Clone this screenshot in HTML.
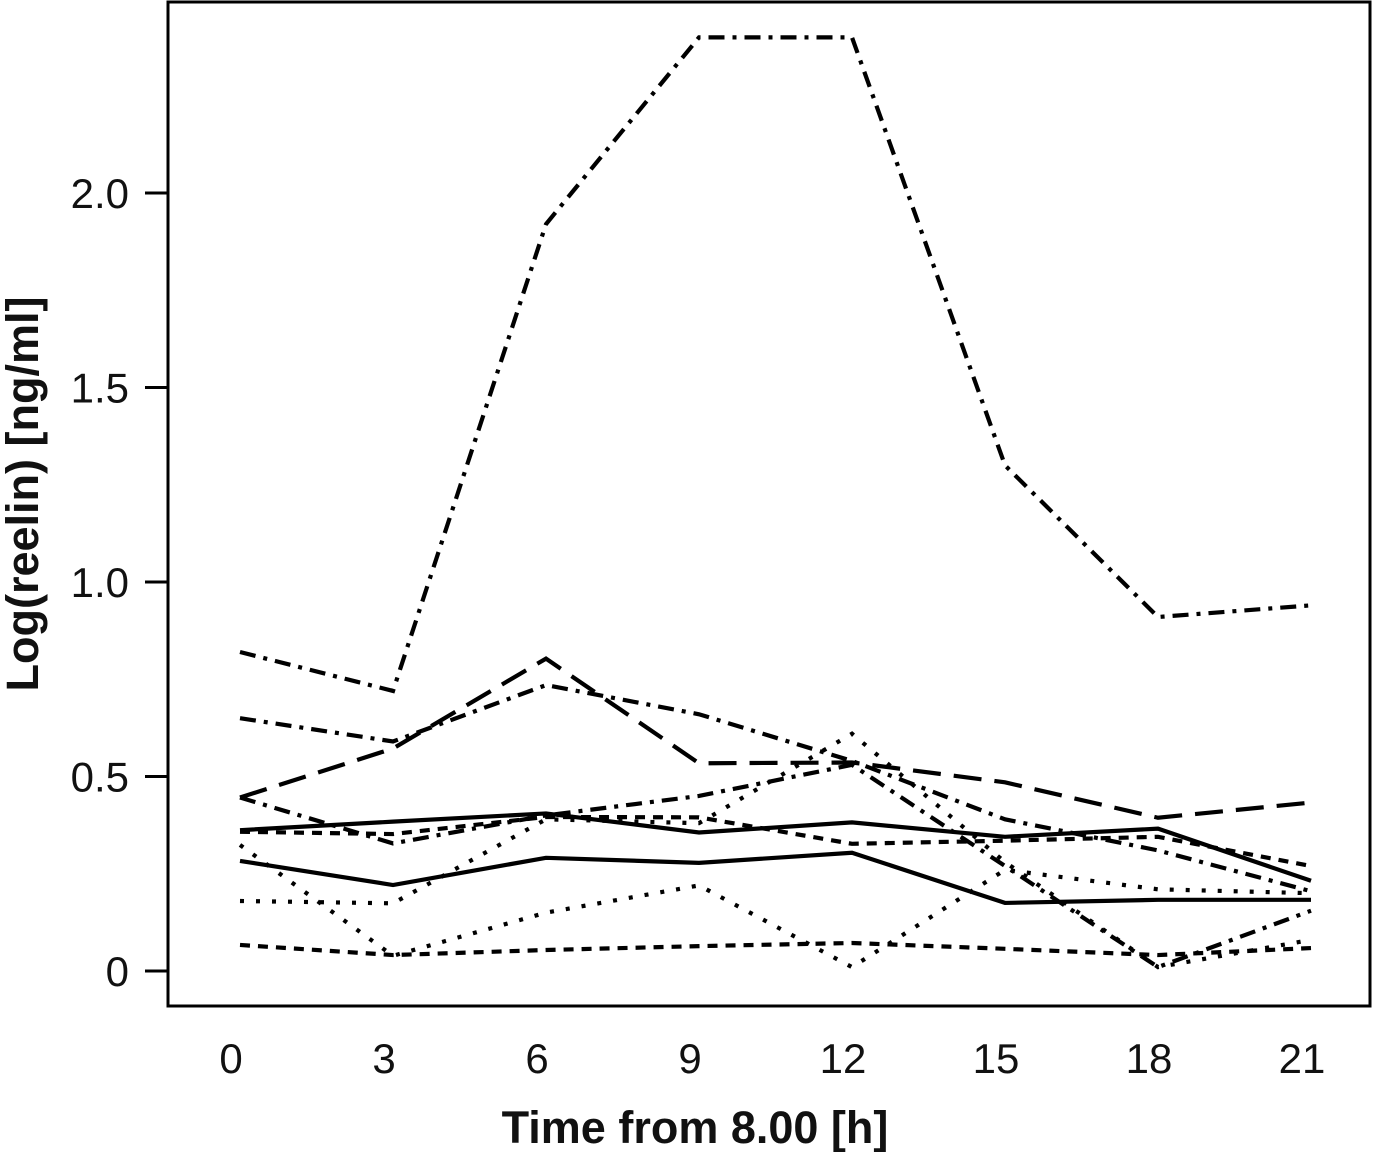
<!DOCTYPE html>
<html><head><meta charset="utf-8">
<style>
html,body{margin:0;padding:0;background:#fff;}
svg{display:block;}
text{font-family:"Liberation Sans","DejaVu Sans",sans-serif;fill:#111;}
</style></head>
<body>
<svg id="chart" width="1382" height="1152" viewBox="0 0 1382 1152" xmlns="http://www.w3.org/2000/svg">
<rect x="168" y="2" width="1202" height="1004" fill="none" stroke="#000" stroke-width="3"/>
<g id="yaxis"></g>
<g id="xaxis"></g>
<g id="series"></g>
<text x="695" y="1143" text-anchor="middle" font-size="45" font-weight="bold">Time from 8.00 [h]</text>
<text transform="translate(38,494) rotate(-90)" text-anchor="middle" font-size="45" font-weight="bold">Log(reelin) [ng/ml]</text>
</svg>
<script>
const times = [0, 3, 6, 9, 12, 15, 18, 21];
const xTicks = ["0", "3", "6", "9", "12", "15", "18", "21"];
const yTickValues = [0, 0.5, 1.0, 1.5, 2.0];
const yTickLabels = ["0", "0.5", "1.0", "1.5", "2.0"];
const seriesA = [0.82, 0.72, 1.92, 2.40, 2.40, 1.30, 0.91, 0.94];
const seriesB = [0.65, 0.59, 0.735, 0.66, 0.54, 0.39, 0.31, 0.205];
const seriesC = [0.446, 0.572, 0.803, 0.534, 0.536, 0.485, 0.394, 0.433];
const seriesD = [0.446, 0.328, 0.40, 0.45, 0.53, 0.27, 0.01, 0.155];
const seriesE = [0.362, 0.384, 0.405, 0.356, 0.382, 0.345, 0.366, 0.232];
const seriesF = [0.283, 0.221, 0.291, 0.278, 0.304, 0.175, 0.183, 0.183];
const seriesG = [0.358, 0.352, 0.396, 0.395, 0.327, 0.335, 0.345, 0.27];
const seriesH = [0.067, 0.041, 0.054, 0.064, 0.072, 0.057, 0.041, 0.059];
const seriesI = [0.324, 0.039, 0.15, 0.22, 0.01, 0.26, 0.21, 0.20];
const seriesJ = [0.18, 0.174, 0.39, 0.38, 0.61, 0.28, 0.01, 0.08];

const NS = "http://www.w3.org/2000/svg";
function xScale(t){ return 240 + 51 * t; }
function yScale(v){ return 971 - 389 * v; }

const yg = document.getElementById('yaxis');
yTickValues.forEach((v, i) => {
  const l = document.createElementNS(NS, 'line');
  l.setAttribute('x1', 145); l.setAttribute('x2', 168);
  l.setAttribute('y1', yScale(v)); l.setAttribute('y2', yScale(v));
  l.setAttribute('stroke', '#000'); l.setAttribute('stroke-width', 3);
  
  
  yg.appendChild(l);
  const t = document.createElementNS(NS, 'text');
  t.setAttribute('x', 129); t.setAttribute('y', yScale(v) + 15);
  t.setAttribute('text-anchor', 'end'); t.setAttribute('font-size', '42');
  t.textContent = yTickLabels[i];
  
  
  yg.appendChild(t);
});
const xg = document.getElementById('xaxis');
times.forEach((tv, i) => {
  const t = document.createElementNS(NS, 'text');
  t.setAttribute('x', xScale(tv) - 9); t.setAttribute('y', 1073);
  t.setAttribute('text-anchor', 'middle'); t.setAttribute('font-size', '42');
  t.textContent = xTicks[i];
  
  
  xg.appendChild(t);
});

const sg = document.getElementById('series');
function draw(vals, dash, name){
  const p = document.createElementNS(NS, 'polyline');
  p.setAttribute('points', vals.map((v, i) => xScale(times[i]) + ',' + yScale(v)).join(' '));
  p.setAttribute('fill', 'none'); p.setAttribute('stroke', '#000');
  p.setAttribute('stroke-width', 4.2);
  if (dash) p.setAttribute('stroke-dasharray', dash);
  
  
  sg.appendChild(p);
}
draw(seriesA, '16,8,4,8', 'series-a-dashdot-peak');
draw(seriesB, '16,8,4,8', 'series-b-dashdot');
draw(seriesC, '28,13', 'series-c-longdash');
draw(seriesD, '16,8,4,8', 'series-d-dashdot');
draw(seriesE, null, 'series-e-solid');
draw(seriesF, null, 'series-f-solid');
draw(seriesG, '10,8', 'series-g-shortdash');
draw(seriesH, '10,8', 'series-h-shortdash');
draw(seriesI, '4,12', 'series-i-dotted');
draw(seriesJ, '4,12', 'series-j-dotted');
</script>
</body></html>
